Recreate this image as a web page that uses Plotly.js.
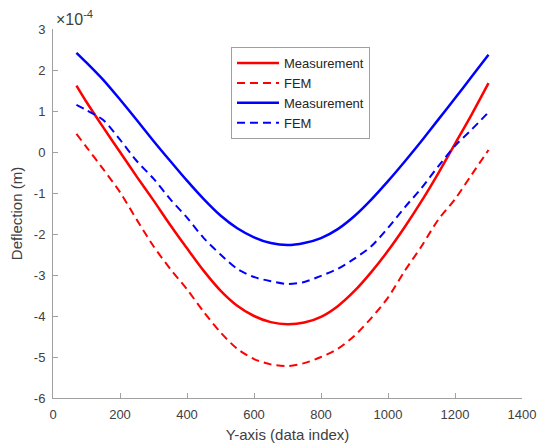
<!DOCTYPE html>
<html>
<head>
<meta charset="utf-8">
<script src="https://cdn.plot.ly/plotly-3.0.1.min.js"></script>
<style>html,body{margin:0;padding:0;background:#fff;}#chart{width:545px;height:448px;}</style>
</head>
<body>
<div id="chart"></div>
<script>
// x positions (data index)
const xIndex = [70,100,150,200,250,300,350,400,450,500,550,600,650,700,750,800,850,900,950,1000,1050,1100,1150,1200,1250,1300];
// deflection values in units of 1e-4 m
const redMeasurement = [1.62,1.22,0.60,0.00,-0.60,-1.18,-1.78,-2.35,-2.90,-3.38,-3.75,-4.00,-4.15,-4.20,-4.16,-4.02,-3.76,-3.39,-2.93,-2.41,-1.83,-1.20,-0.52,0.20,0.92,1.68];
const redFEM = [0.44,0.12,-0.42,-0.98,-1.65,-2.30,-2.85,-3.35,-3.90,-4.40,-4.80,-5.05,-5.18,-5.22,-5.15,-5.00,-4.80,-4.48,-4.05,-3.55,-2.90,-2.30,-1.65,-1.15,-0.55,0.05];
const blueMeasurement = [2.42,2.18,1.76,1.28,0.78,0.27,-0.22,-0.70,-1.15,-1.55,-1.86,-2.08,-2.22,-2.27,-2.22,-2.10,-1.88,-1.56,-1.16,-0.71,-0.23,0.27,0.79,1.31,1.84,2.37];
const blueFEM = [1.15,1.02,0.78,0.30,-0.22,-0.65,-1.15,-1.60,-2.10,-2.50,-2.85,-3.05,-3.15,-3.22,-3.17,-3.02,-2.85,-2.60,-2.30,-1.85,-1.35,-0.88,-0.35,0.15,0.55,0.97];
const seriesNames = ["Measurement","FEM","Measurement","FEM"];
const xTicks = [0,200,400,600,800,1000,1200,1400];
const yTicks = [-6,-5,-4,-3,-2,-1,0,1,2,3];

const font = "Liberation Sans, Arial, Helvetica, sans-serif";
const textColor = "#404040";
const axisColor = "#a0a0a0";

const traces = [
  {x:xIndex, y:redMeasurement, name:seriesNames[0], mode:"lines", line:{color:"#ff0000", width:2.5}},
  {x:xIndex, y:redFEM, name:seriesNames[1], mode:"lines", line:{color:"#ff0000", width:2, dash:"8px,5px"}},
  {x:xIndex, y:blueMeasurement, name:seriesNames[2], mode:"lines", line:{color:"#0000ff", width:2.5}},
  {x:xIndex, y:blueFEM, name:seriesNames[3], mode:"lines", line:{color:"#0000ff", width:2, dash:"8px,5px"}}
].map(t => Object.assign(t, {line: Object.assign(t.line, {shape:"spline", smoothing:0.8})}));

const layout = {
  width:545, height:448,
  margin:{l:53, r:23, t:29, b:50, pad:0},
  paper_bgcolor:"#fff", plot_bgcolor:"#fff",
  font:{family:font, size:13, color:textColor},
  showlegend:true,
  legend:{x:0.3795, y:0.951, xanchor:"left", yanchor:"top", bgcolor:"#fff", itemwidth:42,
          bordercolor:axisColor, borderwidth:1, font:{size:13, color:"#262626"}, tracegroupgap:0},
  xaxis:{range:[0,1400], tickvals:xTicks, ticktext:xTicks.map(String), ticks:"inside", ticklen:5, tickcolor:axisColor,
         showline:true, linecolor:axisColor, linewidth:1, showgrid:false, zeroline:false, ticklabelstandoff:4,
         tickfont:{size:13, color:textColor},
         title:{text:"Y-axis (data index)", font:{size:15, color:textColor}, standoff:8}},
  yaxis:{range:[-6,3], tickvals:yTicks, ticktext:yTicks.map(String), ticks:"inside", ticklen:5, tickcolor:axisColor,
         showline:true, linecolor:axisColor, linewidth:1, showgrid:false, zeroline:false, ticklabelstandoff:4,
         tickfont:{size:13, color:textColor},
         title:{text:"Deflection (m)", font:{size:15, color:textColor}, standoff:7}},
  annotations:[{xref:"paper", yref:"paper", x:0.002, y:1.03, xanchor:"left", yanchor:"middle", showarrow:false,
                text:"×10<sup>-4</sup>", font:{size:16, color:textColor}}]
};

Plotly.newPlot("chart", traces, layout, {displayModeBar:false, staticPlot:true});
</script>
</body>
</html>
